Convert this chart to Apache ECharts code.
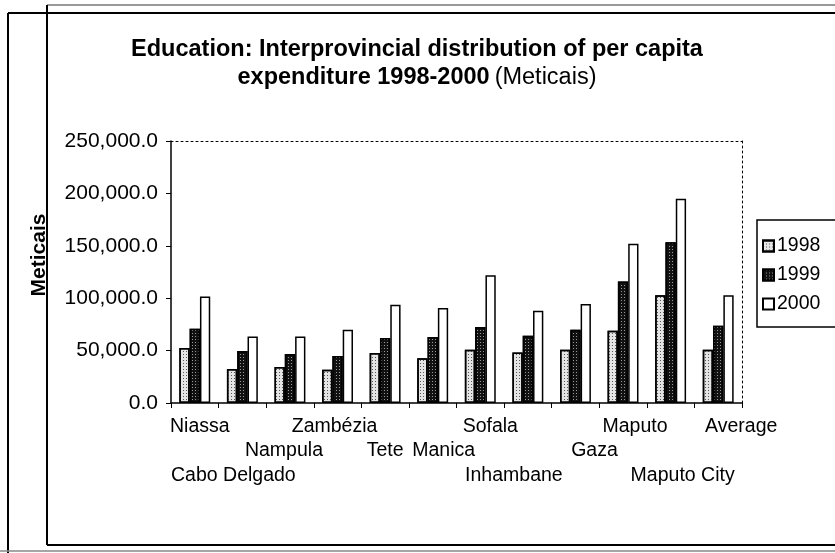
<!DOCTYPE html>
<html>
<head>
<meta charset="utf-8">
<script src="https://cdn.jsdelivr.net/npm/echarts@6/dist/echarts.min.js"></script>
<style>
  html, body { margin: 0; padding: 0; background: #fff; }
  #chart { width: 835px; height: 553px; }
</style>
</head>
<body>
<div id="chart"></div>
<script>
const categories = ["Niassa", "Cabo Delgado", "Nampula", "Zambézia", "Tete", "Manica",
  "Sofala", "Inhambane", "Gaza", "Maputo", "Maputo City", "Average"];
// which of the 3 staggered label rows each category sits on
const labelRows = [0, 2, 1, 0, 1, 1, 0, 2, 1, 0, 2, 0];
// small horizontal nudges (px) so labels sit where the original puts them
const labelNudge = [5, -9, -6, -3, 0, 11, 10, -14, 19, 12, 12, 23];

const v1998 = [52500, 32400, 34400, 31800, 47700, 42600, 50900, 48300, 50900, 69000, 102700, 50900];
const v1999 = [70900, 49600, 46800, 44800, 62000, 63000, 72500, 64200, 70000, 116000, 153300, 73800];
const v2000 = [101700, 63500, 63500, 70000, 93800, 90600, 121800, 88000, 94500, 152000, 195000, 102700];

const seriesNames = ["1998", "1999", "2000"];
const titleLine1 = "Education: Interprovincial distribution of per capita";
const titleLine2 = "expenditure 1998-2000";
const titleUnit = "(Meticais)";
const yName = "Meticais";

const el = (id) => document.getElementById(id);
const chart = echarts.init(el("chart"));

const fmtY = (v) => v.toLocaleString("en-US", { minimumFractionDigits: 1, maximumFractionDigits: 1 });

const LABEL_FS = 19.5, LABEL_LH = 24.5;
const labelRich = {};
labelNudge.forEach((n, i) => {
  labelRich["c" + i] = {
    fontSize: LABEL_FS, lineHeight: LABEL_LH, color: "#000",
    padding: n >= 0 ? [0, 0, 0, 2 * n] : [0, -2 * n, 0, 0]
  };
});

const barBase = {
  type: "bar",
  barWidth: 10.3,
  barGap: "0%",
  animation: false
};

const styles = [
  { color: "#e4e4e4", borderColor: "#000", borderWidth: 1.5,
    decal: { symbol: "rect", symbolSize: 1, color: "#555", dashArrayX: [1, 2], dashArrayY: [1, 2] } },
  { color: "#111", borderColor: "#000", borderWidth: 1.5,
    decal: { symbol: "rect", symbolSize: 1, color: "#999", dashArrayX: [1, 2], dashArrayY: [1, 2] } },
  { color: "#fff", borderColor: "#000", borderWidth: 1.5 }
];

const frame = (shape, color, w) => ({
  type: "line", shape, silent: true,
  style: { stroke: color, lineWidth: w }
});

chart.setOption({
  backgroundColor: "#fff",
  textStyle: { fontFamily: "Liberation Sans, Arial, sans-serif", color: "#000" },
  title: {
    text: `{b|${titleLine1}}\n{b|${titleLine2}} {n|${titleUnit}}`,
    left: 412,
    top: 31,
    textAlign: "center",
    textStyle: {
      rich: {
        b: { fontSize: 23.5, fontWeight: "bold", color: "#000", lineHeight: 28, fontFamily: "Liberation Sans" },
        n: { fontSize: 23.5, fontWeight: "normal", color: "#000", lineHeight: 28, fontFamily: "Liberation Sans" }
      }
    }
  },
  legend: {
    data: seriesNames,
    orient: "vertical",
    left: 757,
    top: 220,
    itemWidth: 11,
    itemHeight: 11,
    itemGap: 9,
    padding: [16, 40, 13, 5],
    borderColor: "#000",
    borderWidth: 1.5,
    textStyle: { fontSize: 19.5, color: "#000", padding: [0, 0, 0, -2] },
    icon: "rect"
  },
  grid: { left: 171, right: 93, top: 141, bottom: 150 },
  xAxis: [{
    type: "category",
    data: categories,
    axisLine: { lineStyle: { color: "#000", width: 1.5 } },
    axisTick: { show: true, length: 5, lineStyle: { color: "#000" } },
    axisLabel: {
      interval: 0,
      margin: 11,
      fontSize: LABEL_FS,
      lineHeight: LABEL_LH,
      color: "#000",
      formatter: (v, i) => "\n".repeat(labelRows[i]) + `{c${i}|${v}}`,
      rich: labelRich
    }
  }, {
    type: "category",
    position: "top",
    data: categories,
    axisLine: { show: true, onZero: false, lineStyle: { color: "#000", width: 1, type: [2, 3] } },
    axisTick: { show: false },
    axisLabel: { show: false }
  }],
  yAxis: [{
    type: "value",
    min: 0,
    max: 250000,
    interval: 50000,
    name: yName,
    nameLocation: "middle",
    nameGap: 121,
    nameTextStyle: { fontSize: 21, fontWeight: "bold", color: "#000", padding: [0, 0, 0, 34] },
    axisLine: { show: true, lineStyle: { color: "#000", width: 1.5 } },
    axisTick: { show: true, length: 5, lineStyle: { color: "#000" } },
    axisLabel: { fontSize: 21, color: "#000", margin: 13, formatter: fmtY },
    splitLine: { show: false }
  }, {
    type: "value",
    position: "right",
    min: 0,
    max: 250000,
    interval: 50000,
    axisLine: { show: true, onZero: false, lineStyle: { color: "#000", width: 1, type: [2, 3] } },
    axisTick: { show: false },
    axisLabel: { show: false },
    splitLine: { show: false }
  }],
  series: [
    Object.assign({}, barBase, { name: seriesNames[0], data: v1998, itemStyle: styles[0] }),
    Object.assign({}, barBase, { name: seriesNames[1], data: v1999, itemStyle: styles[1] }),
    Object.assign({}, barBase, { name: seriesNames[2], data: v2000, itemStyle: styles[2] })
  ],
  graphic: [
    frame({ x1: 8, y1: 13, x2: 835, y2: 13 }, "#000", 2),
    frame({ x1: 8, y1: 13, x2: 8, y2: 553 }, "#000", 2),
    frame({ x1: 47, y1: 5, x2: 835, y2: 5 }, "#777", 1.5),
    frame({ x1: 47, y1: 5, x2: 47, y2: 545 }, "#000", 2),
    frame({ x1: 47, y1: 545, x2: 835, y2: 545 }, "#000", 2),
    frame({ x1: 0, y1: 551, x2: 835, y2: 551 }, "#888", 1.5)
  ]
});
</script>
</body>
</html>
